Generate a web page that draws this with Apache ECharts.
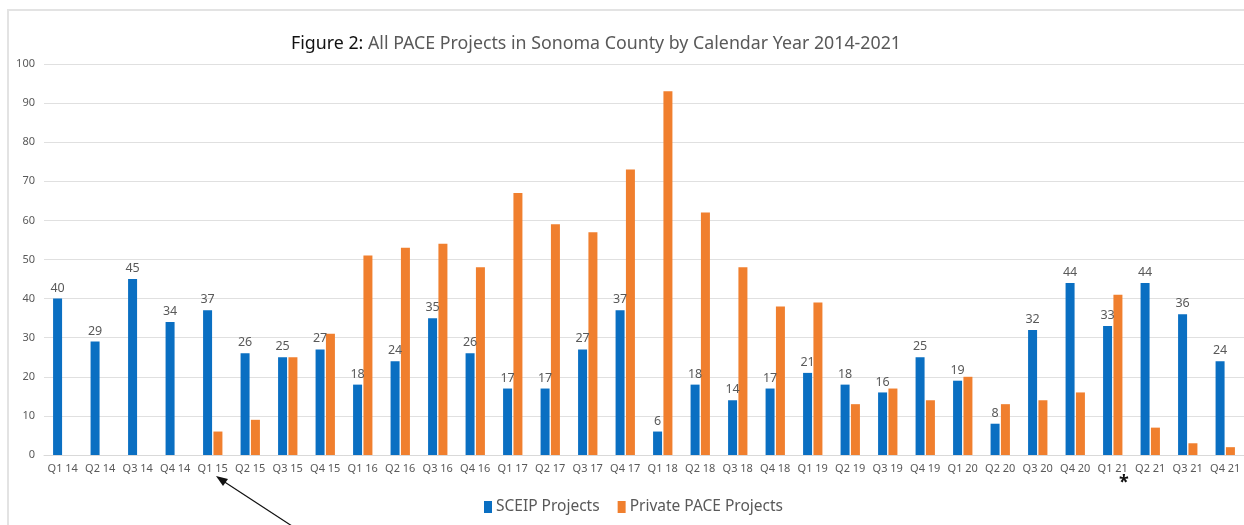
<!DOCTYPE html>
<html>
<head>
<meta charset="utf-8">
<script src="https://cdn.jsdelivr.net/npm/echarts@6/dist/echarts.min.js"></script>
<style>
html,body{margin:0;padding:0;background:#fff;}
#c{width:1244px;height:525px;}
</style>
</head>
<body>
<div id="c"></div>
<script>
const categories = ["Q1 14","Q2 14","Q3 14","Q4 14","Q1 15","Q2 15","Q3 15","Q4 15","Q1 16","Q2 16","Q3 16","Q4 16","Q1 17","Q2 17","Q3 17","Q4 17","Q1 18","Q2 18","Q3 18","Q4 18","Q1 19","Q2 19","Q3 19","Q4 19","Q1 20","Q2 20","Q3 20","Q4 20","Q1 21","Q2 21","Q3 21","Q4 21"];
const sceip = [40,29,45,34,37,26,25,27,18,24,35,26,17,17,27,37,6,18,14,17,21,18,16,25,19,8,32,44,33,44,36,24];
const privatePace = [null,null,null,null,6,9,25,31,51,53,54,48,67,59,57,73,93,62,48,38,39,13,17,14,20,13,14,16,41,7,3,2];
const seriesNames = ["SCEIP Projects","Private PACE Projects"];

const chart = echarts.init(document.getElementById('c'));
const grey = '#595959';
const font = '"Noto Sans", "Open Sans", sans-serif';
chart.setOption({
  animation: false,
  textStyle: {fontFamily: font},
  title: {
    text: '{b|Figure 2:} {g|All PACE Projects in Sonoma County by Calendar Year 2014-2021}',
    left: 591, top: 30, textAlign: 'center',
    textStyle: {
      fontWeight: 'normal',
      rich: {
        b: {fontSize: 17.8, color: '#111', fontFamily: font, fontWeight: 'normal'},
        g: {fontSize: 17.8, color: grey, fontFamily: font, fontWeight: 'normal'}
      }
    }
  },
  legend: {
    data: seriesNames,
    left: 479, top: 494,
    itemWidth: 8, itemHeight: 12, itemGap: 18,
    icon: 'rect',
    textStyle: {fontSize: 15.5, color: grey, fontFamily: font, padding: [0,0,0,-1]}
  },
  grid: {left: 44, right: 0, top: 64, bottom: 70, containLabel: false},
  xAxis: {
    type: 'category', data: categories,
    axisLine: {lineStyle: {color: '#d9d9d9'}},
    axisTick: {show: false},
    axisLabel: {color: grey, fontSize: 11, margin: 8, interval: 0}
  },
  yAxis: {
    type: 'value', min: 0, max: 100, interval: 10,
    axisLine: {show: false}, axisTick: {show: false},
    splitLine: {lineStyle: {color: '#e0e0e0'}},
    axisLabel: {color: grey, fontSize: 11, margin: 9}
  },
  series: [
    {
      name: seriesNames[0], type: 'bar', data: sceip,
      barWidth: 9, barGap: '15%',
      itemStyle: {color: '#0A6FC2'},
      label: {show: true, position: 'top', distance: 4, color: grey, fontSize: 12.5}
    },
    {
      name: seriesNames[1], type: 'bar', data: privatePace,
      barWidth: 9,
      itemStyle: {color: '#F07F2E'}
    }
  ],
  graphic: [
    {type: 'rect', shape: {x: 8, y: 10, width: 1250, height: 530}, style: {fill: 'none', stroke: '#e3e3e3', lineWidth: 2}, silent: true, z: -1},
    {type: 'line', shape: {x1: 292, y1: 526, x2: 220, y2: 479}, style: {stroke: '#111', lineWidth: 1.2}},
    {type: 'polygon', shape: {points: [[216, 476], [228, 479], [223, 486]]}, style: {fill: '#111'}},
    {type: 'text', left: 1119, top: 474, style: {text: '*', fontSize: 18, fontWeight: 'bold', fill: '#111', fontFamily: font}}
  ]
});
</script>
</body>
</html>
